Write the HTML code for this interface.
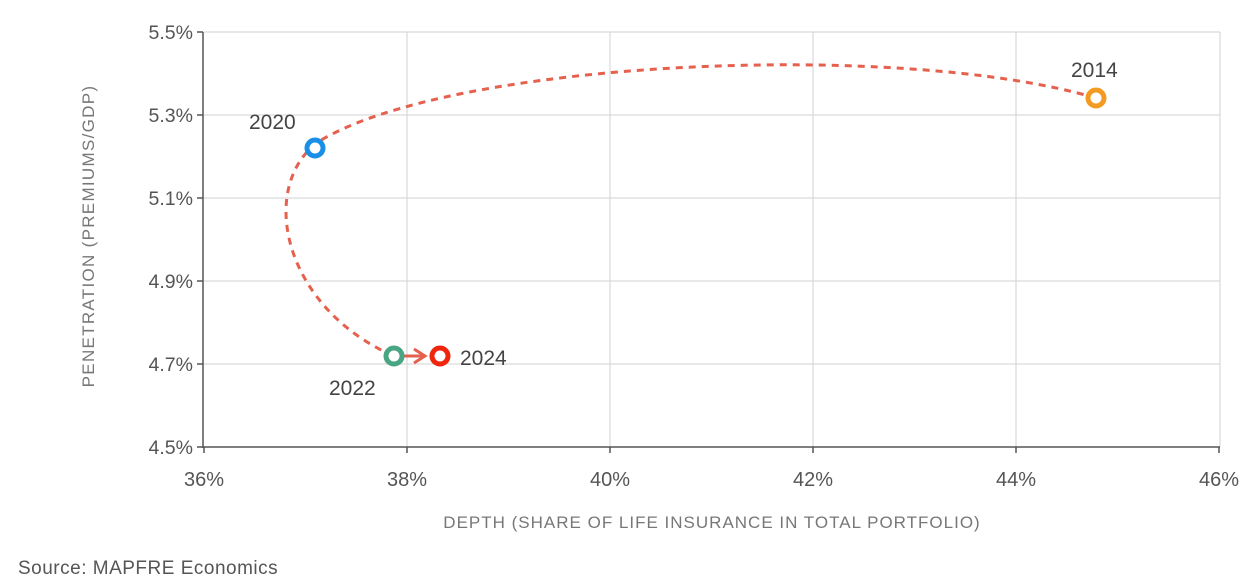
<!DOCTYPE html>
<html><head><meta charset="utf-8"><style>
body{margin:0;background:#fff;}
svg{display:block;font-family:"Liberation Sans",sans-serif;}
</style></head><body>
<svg width="1252" height="588" viewBox="0 0 1252 588" xmlns="http://www.w3.org/2000/svg">
<g stroke="#d2d2d2" stroke-width="1">
<line x1="204" y1="32" x2="1220" y2="32"/>
<line x1="204" y1="115" x2="1220" y2="115"/>
<line x1="204" y1="198" x2="1220" y2="198"/>
<line x1="204" y1="281" x2="1220" y2="281"/>
<line x1="204" y1="364" x2="1220" y2="364"/>
<line x1="407" y1="32" x2="407" y2="447"/>
<line x1="610" y1="32" x2="610" y2="447"/>
<line x1="813" y1="32" x2="813" y2="447"/>
<line x1="1016" y1="32" x2="1016" y2="447"/>
<line x1="1220" y1="32" x2="1220" y2="447"/>
</g>
<g stroke="#555" stroke-width="1.5">
<line x1="203" y1="32" x2="203" y2="448"/>
<line x1="203" y1="447" x2="1220" y2="447"/>
<line x1="197" y1="32" x2="203" y2="32"/><line x1="197" y1="115" x2="203" y2="115"/>
<line x1="197" y1="198" x2="203" y2="198"/><line x1="197" y1="281" x2="203" y2="281"/>
<line x1="197" y1="364" x2="203" y2="364"/><line x1="197" y1="447" x2="203" y2="447"/>
<line x1="204" y1="447" x2="204" y2="453"/><line x1="407" y1="447" x2="407" y2="453"/>
<line x1="610" y1="447" x2="610" y2="453"/><line x1="813" y1="447" x2="813" y2="453"/>
<line x1="1016" y1="447" x2="1016" y2="453"/><line x1="1219" y1="447" x2="1219" y2="453"/>
</g>
<g fill="#555" font-size="19.5" text-anchor="end">
<text x="193" y="39">5.5%</text><text x="193" y="122">5.3%</text>
<text x="193" y="205">5.1%</text><text x="193" y="288">4.9%</text>
<text x="193" y="371">4.7%</text><text x="193" y="454">4.5%</text>
</g>
<g fill="#555" font-size="20" text-anchor="middle">
<text x="204" y="486">36%</text><text x="407" y="486">38%</text>
<text x="610" y="486">40%</text><text x="813" y="486">42%</text>
<text x="1016" y="486">44%</text><text x="1219" y="486">46%</text>
</g>
<text x="712" y="528" fill="#777" font-size="17" text-anchor="middle" letter-spacing="1">DEPTH (SHARE OF LIFE INSURANCE IN TOTAL PORTFOLIO)</text>
<text transform="translate(94,236) rotate(-90)" fill="#777" font-size="17" text-anchor="middle" letter-spacing="1.3">PENETRATION (PREMIUMS/GDP)</text>
<text x="18" y="574" fill="#555" font-size="19" letter-spacing="0.5">Source: MAPFRE Economics</text>
<path d="M1096,98 C 900,40 450,60 318,142 C 260,185 280,300 385,352" fill="none" stroke="#e5604d" stroke-width="3" stroke-dasharray="7,6"/>
<line x1="402" y1="356" x2="424" y2="356" stroke="#e5604d" stroke-width="3"/>
<polyline points="414,349 425,356 414,363" fill="none" stroke="#e5604d" stroke-width="3"/>
<g fill="#fff" stroke-width="5">
<circle cx="1096" cy="98" r="8" stroke="#f39a22"/>
<circle cx="315" cy="148" r="8" stroke="#1a8fe8"/>
<circle cx="394" cy="356" r="8" stroke="#4aa582"/>
<circle cx="440" cy="356" r="8" stroke="#f0250e"/>
</g>
<g fill="#444" font-size="21">
<text x="1071" y="77">2014</text>
<text x="249" y="129">2020</text>
<text x="329" y="395">2022</text>
<text x="460" y="365">2024</text>
</g>
</svg>
</body></html>
